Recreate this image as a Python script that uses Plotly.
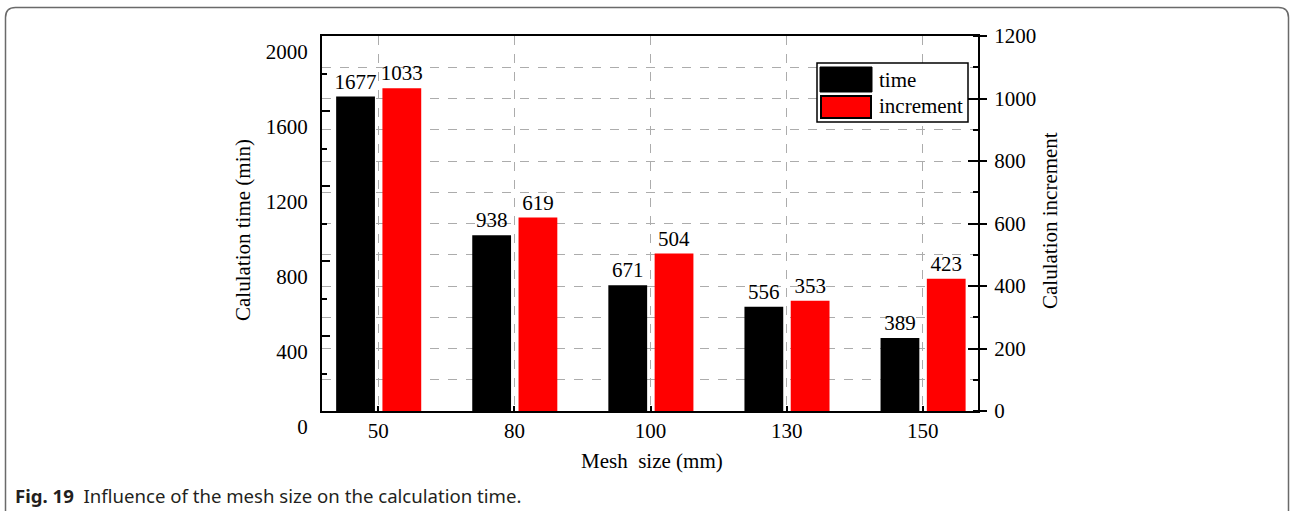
import plotly.graph_objects as go

# Mesh sizes (mm) and measured results
mesh_sizes = ["50", "80", "100", "130", "150"]
calc_time = [1677, 938, 671, 556, 389]        # minutes
calc_increment = [1033, 619, 504, 353, 423]   # increments

left_ticks = [0, 400, 800, 1200, 1600, 2000]
right_ticks = [0, 200, 400, 600, 800, 1000, 1200]

W, H = 1290, 511
L, R, T, B = 322, 312, 36, 100
PW, PH = W - L - R, H - T - B

SERIF = "Liberation Serif"
FS = 21
GRID = "#acacac"


def px(x):
    return (x - L) / PW


def py(y):
    return (H - B - y) / PH


fig = go.Figure()

fig.add_trace(go.Bar(
    x=mesh_sizes, y=calc_time, name="time",
    marker=dict(color="black", line=dict(width=0)),
    width=0.285, offset=-0.31,
    text=[str(v) for v in calc_time], textposition="outside",
    textfont=dict(family=SERIF, size=FS, color="black"),
    constraintext="none", cliponaxis=False, yaxis="y",
))
fig.add_trace(go.Bar(
    x=mesh_sizes, y=calc_increment, name="increment",
    marker=dict(color="#ff0000", line=dict(width=0)),
    width=0.285, offset=0.03,
    text=[str(v) for v in calc_increment], textposition="outside",
    textfont=dict(family=SERIF, size=FS, color="black"),
    constraintext="none", cliponaxis=False, yaxis="y2",
))
# carrier for the inward major ticks on the right axis
fig.add_trace(go.Scatter(x=[mesh_sizes[0]], y=[0], yaxis="y3", mode="markers",
                         marker=dict(opacity=0), hoverinfo="skip", showlegend=False))

fig.update_layout(
    width=W, height=H,
    margin=dict(l=L, r=R, t=T, b=B),
    paper_bgcolor="white", plot_bgcolor="white",
    showlegend=False,
    barmode="overlay",
    font=dict(family=SERIF, size=FS, color="black"),
    xaxis=dict(
        type="category", range=[-0.414, 4.406], automargin=False,
        showline=True, linecolor="black", linewidth=2, mirror=True,
        ticks="inside", ticklen=5, tickcolor="black", tickwidth=1.5,
        showgrid=True, gridcolor=GRID, griddash="dash", gridwidth=1,
        tickfont=dict(family=SERIF, size=FS), ticklabelstandoff=0,
        zeroline=False,
    ),
    yaxis=dict(
        range=[0, 2000], tickvals=left_ticks, automargin=False,
        showline=True, linecolor="black", linewidth=2,
        ticks="inside", ticklen=8, tickcolor="black", tickwidth=1.5,
        minor=dict(ticks="inside", ticklen=5, dtick=200, tickcolor="black", tickwidth=1.5, showgrid=False),
        showgrid=False, zeroline=False,
        tickfont=dict(family=SERIF, size=FS), ticklabelshift=16, ticklabelstandoff=8,
    ),
    yaxis2=dict(
        range=[0, 1200], tickvals=right_ticks, overlaying="y", side="right", automargin=False,
        showline=True, linecolor="black", linewidth=2,
        ticks="outside", ticklen=7, tickcolor="black", tickwidth=1.5,
        minor=dict(ticks="inside", ticklen=5, dtick=100, tickcolor="black", tickwidth=1.5,
                   showgrid=True, gridcolor=GRID, griddash="dash", gridwidth=1),
        showgrid=True, gridcolor=GRID, griddash="dash", gridwidth=1,
        zeroline=False,
        tickfont=dict(family=SERIF, size=FS), ticklabelstandoff=3,
    ),
    yaxis3=dict(
        range=[0, 1200], tickvals=right_ticks, overlaying="y", side="right", automargin=False,
        showline=False, ticks="inside", ticklen=10, tickcolor="black", tickwidth=1.5,
        showticklabels=False, showgrid=False, zeroline=False,
    ),
)

# axis titles
fig.add_annotation(text="Calulation time (min)", xref="paper", yref="paper",
                   x=px(243), y=py(230), textangle=-90, showarrow=False,
                   font=dict(family=SERIF, size=FS), xanchor="center", yanchor="middle")
fig.add_annotation(text="Calulation increment", xref="paper", yref="paper",
                   x=px(1050), y=py(221), textangle=-90, showarrow=False,
                   font=dict(family=SERIF, size=FS), xanchor="center", yanchor="middle")
fig.add_annotation(text="Mesh&nbsp; size (mm)", xref="paper", yref="paper",
                   x=px(652), y=py(461), showarrow=False,
                   font=dict(family=SERIF, size=FS), xanchor="center", yanchor="middle")

# legend box
fig.add_shape(type="rect", xref="paper", yref="paper",
              x0=px(817), x1=px(968), y0=py(122), y1=py(63),
              line=dict(color="black", width=1.5), fillcolor="white", layer="above")
fig.add_shape(type="rect", xref="paper", yref="paper",
              x0=px(820), x1=px(872), y0=py(92), y1=py(67),
              line=dict(color="black", width=1), fillcolor="black", layer="above")
fig.add_shape(type="rect", xref="paper", yref="paper",
              x0=px(821), x1=px(871), y0=py(118), y1=py(96),
              line=dict(color="black", width=2), fillcolor="#ff0000", layer="above")
fig.add_annotation(text="time", xref="paper", yref="paper", x=px(877), y=py(80),
                   showarrow=False, xanchor="left", yanchor="middle",
                   font=dict(family=SERIF, size=FS))
fig.add_annotation(text="increment", xref="paper", yref="paper", x=px(877), y=py(106),
                   showarrow=False, xanchor="left", yanchor="middle",
                   font=dict(family=SERIF, size=FS))

# rounded outer frame
x0, x1, y0, y1, r = 5.5, 1288.5, 7.5, 530, 10
path = (f"M {px(x0)},{py(y1)} L {px(x0)},{py(y0 + r)} "
        f"Q {px(x0)},{py(y0)} {px(x0 + r)},{py(y0)} "
        f"L {px(x1 - r)},{py(y0)} Q {px(x1)},{py(y0)} {px(x1)},{py(y0 + r)} "
        f"L {px(x1)},{py(y1)}")
fig.add_shape(type="path", xref="paper", yref="paper", path=path,
              line=dict(color="#6a6a6a", width=1.5))

# caption
fig.add_annotation(text="<b>Fig. 19</b>  Influence of the mesh size on the calculation time.",
                   xref="paper", yref="paper", x=px(13), y=py(495), showarrow=False,
                   xanchor="left", yanchor="middle",
                   font=dict(family="Noto Sans", size=18.6, color="#231f20"))

fig.write_html("out.html")
